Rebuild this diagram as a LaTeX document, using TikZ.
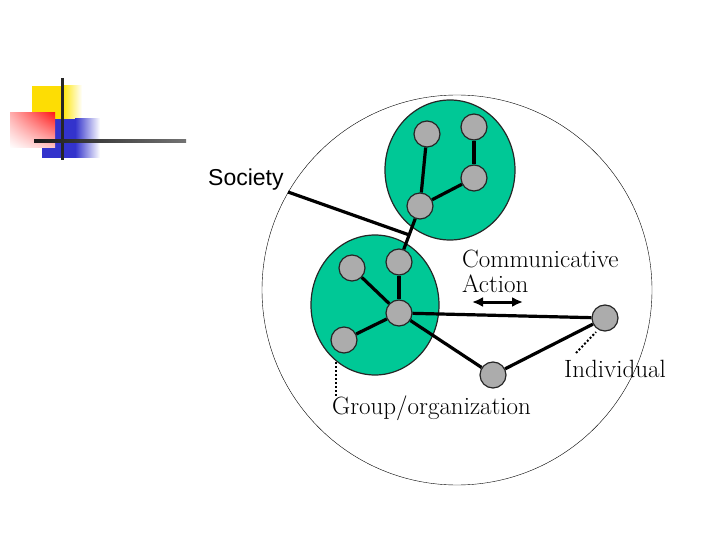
\documentclass[tikz,border=0pt]{standalone}
\usepackage{fontspec}
\newfontfamily\arialfont{Liberation Sans}
\usetikzlibrary{arrows.meta,calc,positioning,shadings}
\colorlet{logoyellow}{yellow!80!orange}
\colorlet{logored}{red!90!white}
\colorlet{logoblue}{blue!75!black!80!white}
\definecolor{groupgreen}{RGB}{0,200,150}
\colorlet{membergray}{gray!65}
\tikzset{
  member/.style={circle,draw=black!85,line width=1.2pt,fill=membergray,minimum size=26pt,inner sep=0pt},
  tie/.style={line width=3.2pt},
  group/.style={draw=black!85,line width=1.2pt,fill=groupgreen},
  lab/.style={font=\fontsize{25}{27}\selectfont,inner sep=0pt,anchor=base west},
  pointer/.style={dotted,line width=2pt}
}
\begin{document}
\begin{tikzpicture}[x=1pt,y=-1pt,>=Latex]
\useasboundingbox (0,0) rectangle (720,540);
% logo in the corner
\fill[logoyellow] (32,86) rectangle (62,120);
\shade[left color=logoyellow,right color=white] (62,86) rectangle (82,120);
\fill[logoblue] (42,119) rectangle (75,158);
\shade[left color=logoblue,right color=white] (75,119) rectangle (100,158);
\shade[upper left=logored!35!white,upper right=logored,lower left=white,lower right=logored!25!white] (10,113) rectangle (55,148);
\draw[line width=3pt,black!85] (62,78) -- (62,160);
\shade[left color=black!90,right color=black!55] (34,139.5) rectangle (186,142.5);
% society
\draw[thin] (457,290) circle[radius=195];
\draw[group] (450,170) ellipse[x radius=65,y radius=70];
\draw[group] (375,305) ellipse[x radius=64,y radius=70];
% members
\foreach \n/\x/\y in {a/427/134,b/474/127,c/474/178,d/420/206,e/352/268,f/399/262,g/399/313,h/344/340,i/493/375,j/605/318}
  \node[member] (\n) at (\x,\y) {};
% ties
\draw[tie] (a) -- (d);
\draw[tie] (b) -- (c);
\draw[tie] (c) -- (d);
\draw[tie] (d) -- (f) coordinate[pos=0.53] (mid);
\draw[tie] (e) -- (g);
\draw[tie] (f) -- (g);
\draw[tie] (h) -- (g);
\draw[tie] (g) -- (j);
\draw[tie] (g) -- (i);
\draw[tie] (i) -- (j);
% labels
\node[font=\arialfont\fontsize{23}{25}\selectfont,inner sep=0pt,anchor=base west] (society) at (208,186) {Society};
\coordinate (sockey) at (288,192);
\draw[tie] (sockey) -- (mid);
\node[lab] (comm) at (462,267) {Communicative};
\node[lab] (action) at (462,292) {Action};
\coordinate (al) at (472,302);
\coordinate (ar) at (523,302);
\draw[line width=3pt,{Latex[length=11pt,width=10pt]}-{Latex[length=11pt,width=10pt]}] (al) -- (ar);
\node[lab] (indiv) at (564,377) {Individual};
\coordinate (ip) at (576,353);
\coordinate (iq) at (596,332);
\draw[pointer] (ip) -- (iq);
\node[lab] (grp) at (332,414) {Group/organization};
\coordinate (gp) at (336,362);
\coordinate (gq) at (336,396);
\draw[pointer] (gp) -- (gq);
\end{tikzpicture}
\end{document}
